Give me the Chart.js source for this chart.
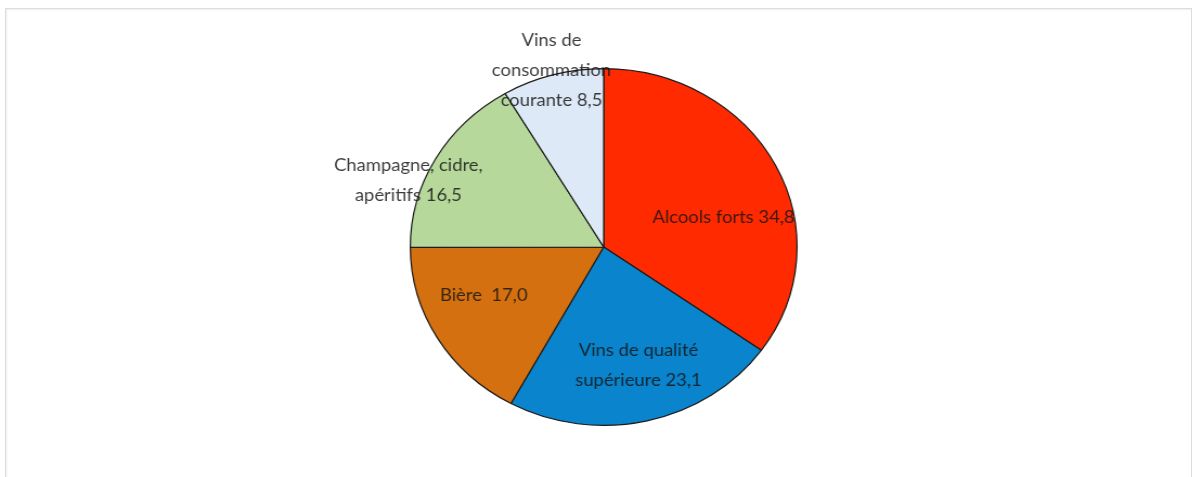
<!DOCTYPE html>
<html>
<head>
<meta charset="utf-8">
<script src="https://cdn.jsdelivr.net/npm/chart.js@4.4.0/dist/chart.umd.min.js"></script>
<style>
  html, body { margin: 0; padding: 0; background: #fff; }
  body { width: 1199px; height: 477px; position: relative; overflow: hidden; }
  #cadre { position: absolute; left: 5px; top: 8px; width: 1185px; height: 480px;
           border: 1px solid #dcdcdc; box-shadow: inset 1px 1px 2px #eee; }
  #zone { position: absolute; left: 0; top: 0; width: 1106px; height: 477px;
          transform: scaleX(1.0838); transform-origin: 0 0; }
</style>
</head>
<body>
<div id="cadre"></div>
<div id="zone"><canvas id="camembertAlcool"></canvas></div>
<script>
// categories et valeurs (en %)
var categories = [
    ['Alcools forts 34,8'],
    ['Vins de qualité', 'supérieure 23,1'],
    ['Bière  17,0'],
    ['Champagne, cidre,', 'apéritifs 16,5'],
    ['Vins de', 'consommation', 'courante 8,5']
];
var valeurs = [34.8, 23.1, 17.0, 16.5, 8.5];
var couleurs = ['#ff2a00', '#0a84cc', '#d4700f', '#b6d99b', '#dde9f6'];

// placement des etiquettes, en fraction du rayon depuis le centre
var positionsEtiquettes = [
    [0.62, -0.165],
    [0.18, 0.665],
    [-0.62, 0.27],
    [-1.01, -0.37],
    [-0.27, -0.99]
];

var etiquettesPlugin = {
    id: 'etiquettesPie',
    afterDatasetsDraw: function(chart) {
        var ctx = chart.ctx;
        var arcs = chart.getDatasetMeta(0).data;
        if (!arcs.length) return;
        var cx = arcs[0].x, cy = arcs[0].y, r = arcs[0].outerRadius;
        ctx.save();
        ctx.font = '17px Lato, "Open Sans", sans-serif';
        ctx.fillStyle = 'rgba(22,22,22,0.84)';
        ctx.textAlign = 'center';
        ctx.textBaseline = 'middle';
        var interligne = 30;
        categories.forEach(function(lignes, i) {
            var px = cx + positionsEtiquettes[i][0] * r;
            var py = cy + positionsEtiquettes[i][1] * r;
            var y0 = py - (lignes.length - 1) * interligne / 2;
            lignes.forEach(function(l, j) {
                ctx.fillText(l, px, y0 + j * interligne);
            });
        });
        ctx.restore();
    }
};

var ctxPie = document.getElementById('camembertAlcool');
new Chart(ctxPie, {
    type: 'pie',
    data: {
        labels: categories.map(function(c) { return c.join(' '); }),
        datasets: [{
            data: valeurs,
            backgroundColor: couleurs,
            borderColor: '#1a1a1a',
            borderWidth: 1.2
        }]
    },
    options: {
        responsive: true,
        maintainAspectRatio: false,
        animation: false,
        layout: { padding: { top: 68, bottom: 51, left: 8, right: 0 } },
        plugins: {
            legend: { display: false },
            tooltip: { enabled: false }
        }
    },
    plugins: [etiquettesPlugin]
});
</script>
</body>
</html>
